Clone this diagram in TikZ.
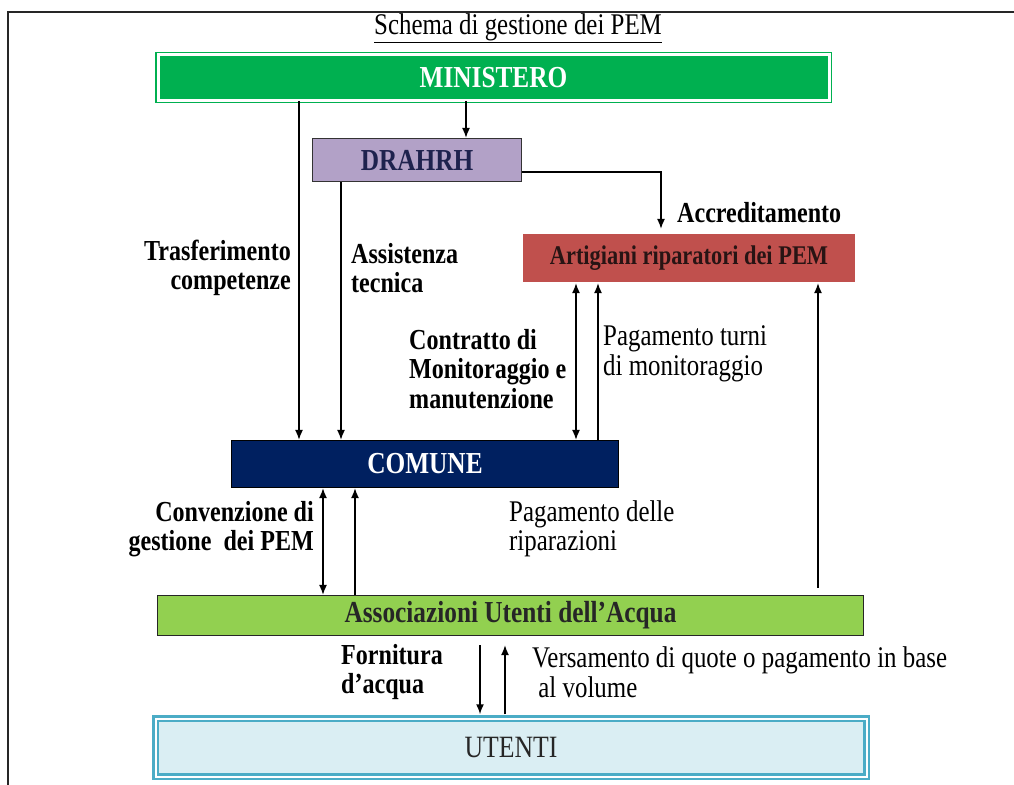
\documentclass[tikz,border=0pt]{standalone}
\usepackage{fontspec}
\setmainfont{Liberation Serif}[FakeStretch=0.83]
\usetikzlibrary{arrows.meta,positioning,calc,backgrounds}
\definecolor{MinGreen}{RGB}{0,176,80}
\definecolor{DraLilac}{RGB}{178,161,199}
\definecolor{ArtRed}{RGB}{192,80,77}
\definecolor{ComNavy}{RGB}{0,32,96}
\definecolor{AssGreen}{RGB}{146,208,80}
\definecolor{UteBlue}{RGB}{75,172,198}
\definecolor{UteTint}{RGB}{218,238,243}
\definecolor{ShadowGray}{RGB}{232,232,232}
\definecolor{InkNavy}{RGB}{30,34,78}
\definecolor{InkDark}{RGB}{40,20,20}
\tikzset{
  boxfont/.style  ={font=\fontsize{30.5}{34}\selectfont\bfseries},
  minbox/.style   ={rectangle, draw=MinGreen, double=white, double distance=3pt, line width=1.5pt,
                    fill=MinGreen, text=white, boxfont, minimum width=671pt, minimum height=45pt},
  drabox/.style   ={rectangle, draw=black!80, line width=1.2pt, fill=DraLilac, text=InkNavy,
                    boxfont, minimum width=209pt, minimum height=43pt},
  artbox/.style   ={rectangle, draw=white, line width=1.2pt, fill=ArtRed, text=InkDark,
                    font=\fontsize{27}{31}\selectfont\bfseries, minimum width=334pt, minimum height=49pt},
  combox/.style   ={rectangle, draw=black, line width=1.2pt, fill=ComNavy, text=white,
                    boxfont, minimum width=387pt, minimum height=47pt},
  assbox/.style   ={rectangle, draw=black!85, line width=1.2pt, fill=AssGreen, text=black!85,
                    boxfont, minimum width=706pt, minimum height=40pt},
  utebox/.style   ={rectangle, draw=UteBlue, double=white, double distance=2pt, line width=2.5pt,
                    fill=UteTint, text=black!85, font=\fontsize{31}{34}\selectfont,
                    minimum width=711pt, minimum height=58pt},
  lab/.style      ={font=\fontsize{29}{29.5}\selectfont\bfseries, inner sep=0pt},
  labr/.style     ={font=\fontsize{30}{29.5}\selectfont, inner sep=0pt},
  arr/.style      ={-{Latex[length=10pt,width=8pt]}, draw=black, line width=1.5pt},
  arrboth/.style  ={{Latex[length=10pt,width=8pt]}-{Latex[length=10pt,width=8pt]}, draw=black, line width=1.5pt},
}
\begin{document}
\begin{tikzpicture}[x=1pt,y=-1pt]
  \useasboundingbox (0,0) rectangle (1014,784);
  \fill[white] (0,0) rectangle (1014,784);
  \draw[line width=1.8pt,black!85] (8,800) -- (8,12) -- (1030,12);
  \node[labr] (tit) at (518,28) {\underline{Schema di gestione dei PEM}};
  \node[minbox] (min) at (493.5,77.5) {MINISTERO};
  \node[drabox] (dra) at (417,160) {DRAHRH};
  \node[artbox] (art) at (689,258) {Artigiani riparatori dei PEM};
  \node[combox] (com) at (425,464) {COMUNE};
  \node[assbox] (ass) at (510.5,615.5) {Associazioni Utenti dell’Acqua};
  \node[utebox] (ute) at (511,747.5) {UTENTI};
  \begin{scope}[on background layer]
    \fill[ShadowGray] ([shift={(-5,-5)}]min.north west) rectangle ([shift={(5,5)}]min.south east);
    \fill[ShadowGray] ([shift={(-3,-3)}]art.north west) rectangle ([shift={(7,8)}]art.south east);
  \end{scope}
  \draw[arr] (min.south -| 466,0) -- (dra.north -| 466,0);
  \draw[arr] (min.south -| 299,0) -- (com.north -| 299,0);
  \draw[arr] (dra.south -| 341,0) -- (com.north -| 341,0);
  \draw[arr, shorten >=4pt] (dra.east |- 0,172) -| (art.north -| 661,0);
  \draw[arrboth] (art.south -| 576,0) -- (com.north -| 576,0);
  \draw[arr] (com.north -| 598,0) -- (art.south -| 598,0);
  \draw[arr, shorten <=7pt] (ass.north -| 818,0) -- (art.south -| 818,0);
  \draw[arrboth] (com.south -| 323,0) -- (ass.north -| 323,0);
  \draw[arr] (ass.north -| 355,0) -- (com.south -| 355,0);
  \draw[arr, shorten <=9pt, shorten >=3pt] (ass.south -| 480,0) -- (ute.north -| 480,0);
  \draw[arr, shorten <=3pt, shorten >=9pt] (ute.north -| 505,0) -- (ass.south -| 505,0);
  \node[lab, anchor=west] (lacc) at (677,213) {Accreditamento};
  \node[lab, align=right, anchor=east] (ltra) at (291,268) {Trasferimento\\competenze};
  \node[lab, align=left, anchor=west] (lass) at (351,268) {Assistenza\\tecnica};
  \node[lab, align=left, anchor=west] (lcon) at (409,369) {Contratto di\\Monitoraggio e\\manutenzione};
  \node[labr, align=left, anchor=west] (lpag) at (603,354) {Pagamento turni\\di monitoraggio};
  \node[lab, align=right, anchor=east] (lcnv) at (314,529) {Convenzione di\\gestione\ \ dei PEM};
  \node[labr, align=left, anchor=west] (lrip) at (509,529) {Pagamento delle\\riparazioni};
  \node[lab, align=left, anchor=west] (lfor) at (341,672) {Fornitura\\d’acqua};
  \node[labr, align=left, anchor=west] (lver) at (532,672) {Versamento di quote o pagamento in base\\\ al volume};
\end{tikzpicture}
\end{document}
